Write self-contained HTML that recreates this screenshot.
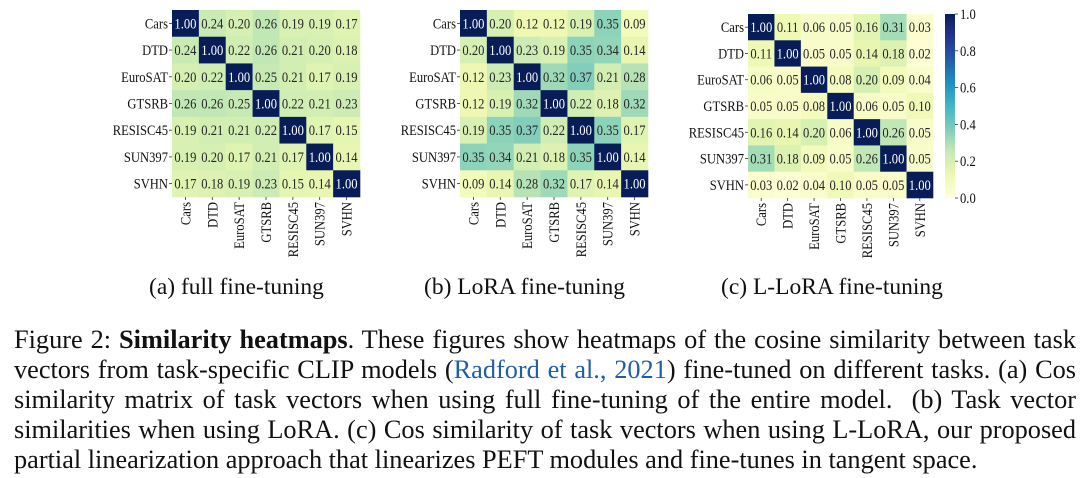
<!DOCTYPE html>
<html><head><meta charset="utf-8">
<style>
html,body{margin:0;padding:0;background:#fff;width:1088px;height:478px;overflow:hidden;font-family:"Liberation Serif",serif;}
svg{position:absolute;left:0;top:0}
.sub{position:absolute;top:274px;font-size:23.5px;color:#111;white-space:nowrap}
.cap{position:absolute;left:14px;width:1062px;font-size:26.3px;line-height:30px;color:#111}
.cap div{text-align:justify;text-align-last:justify;white-space:nowrap;height:30px}
.cap div.last{text-align-last:left}
.cite{color:#1f5fa8}
</style></head><body>
<svg id="fig" width="1088" height="270"></svg>
<div class="sub" style="left:149px">(a) full fine-tuning</div>
<div class="sub" style="left:424px">(b) LoRA fine-tuning</div>
<div class="sub" style="left:721px">(c) L-LoRA fine-tuning</div>
<div class="cap" style="top:325px">
<div>Figure 2: <b>Similarity heatmaps</b>. These figures show heatmaps of the cosine similarity between task</div>
<div>vectors from task-specific CLIP models (<span class="cite">Radford et al., 2021</span>) fine-tuned on different tasks. (a) Cos</div>
<div>similarity matrix of task vectors when using full fine-tuning of the entire model.&nbsp; (b) Task vector</div>
<div>similarities when using LoRA. (c) Cos similarity of task vectors when using L-LoRA, our proposed</div>
<div class="last">partial linearization approach that linearizes PEFT modules and fine-tunes in tangent space.</div>
</div>
<script>
const categories=["Cars","DTD","EuroSAT","GTSRB","RESISC45","SUN397","SVHN"];
const fullValues=[
[1.00,0.24,0.20,0.26,0.19,0.19,0.17],
[0.24,1.00,0.22,0.26,0.21,0.20,0.18],
[0.20,0.22,1.00,0.25,0.21,0.17,0.19],
[0.26,0.26,0.25,1.00,0.22,0.21,0.23],
[0.19,0.21,0.21,0.22,1.00,0.17,0.15],
[0.19,0.20,0.17,0.21,0.17,1.00,0.14],
[0.17,0.18,0.19,0.23,0.15,0.14,1.00]];
const loraValues=[
[1.00,0.20,0.12,0.12,0.19,0.35,0.09],
[0.20,1.00,0.23,0.19,0.35,0.34,0.14],
[0.12,0.23,1.00,0.32,0.37,0.21,0.28],
[0.12,0.19,0.32,1.00,0.22,0.18,0.32],
[0.19,0.35,0.37,0.22,1.00,0.35,0.17],
[0.35,0.34,0.21,0.18,0.35,1.00,0.14],
[0.09,0.14,0.28,0.32,0.17,0.14,1.00]];
const lloraValues=[
[1.00,0.11,0.06,0.05,0.16,0.31,0.03],
[0.11,1.00,0.05,0.05,0.14,0.18,0.02],
[0.06,0.05,1.00,0.08,0.20,0.09,0.04],
[0.05,0.05,0.08,1.00,0.06,0.05,0.10],
[0.16,0.14,0.20,0.06,1.00,0.26,0.05],
[0.31,0.18,0.09,0.05,0.26,1.00,0.05],
[0.03,0.02,0.04,0.10,0.05,0.05,1.00]];
const colorbarTicks=[0.0,0.2,0.4,0.6,0.8,1.0];

const NS="http://www.w3.org/2000/svg";
const svg=document.getElementById("fig");
const FS=15, SX=0.84;
const stops=["#ffffd9","#edf8b1","#c7e9b4","#7fcdbb","#41b6c4","#1d91c0","#225ea8","#253494","#081d58"];
function hex(h){return [1,3,5].map(i=>parseInt(h.substr(i,2),16));}
function color(v){v=Math.max(0,Math.min(1,v));const t=v*8,i=Math.min(7,Math.floor(t)),f=t-i;const a=hex(stops[i]),b=hex(stops[i+1]);return "rgb("+a.map((c,k)=>Math.round(c+(b[k]-c)*f)).join(",")+")";}
function el(tag,attrs,parent){const e=document.createElementNS(NS,tag);for(const k in attrs)e.setAttribute(k,attrs[k]);(parent||svg).appendChild(e);return e;}
function txt(parent,x,y,s,anchor,fill,rot){
  const tr=`translate(${x},${y})`+(rot?" rotate(-90)":"")+` scale(${SX},1)`;
  const t=el("text",{x:0,y:0,transform:tr,"text-anchor":anchor,"font-size":FS,fill:fill,"font-family":"Liberation Serif, serif"},parent);
  t.textContent=s;return t;
}

function heatmap(values,x0,y0,w,h,name){
  const g=el("g",{});
  
  
  const n=categories.length,cw=w/n,ch=h/n;
  const xs=i=>x0+i*cw, ys=j=>y0+j*ch;
  values.forEach((row,j)=>row.forEach((v,i)=>{
    const r=el("rect",{x:xs(i),y:ys(j),width:cw+0.3,height:ch+0.3,fill:color(v)},g);
    
    
    const t=txt(g,xs(i)+cw/2,ys(j)+ch/2+5,v.toFixed(2),"middle",v>0.6?"#fff":"#262626",false);
    
    
  }));
  categories.forEach((c,j)=>{
    el("line",{x1:x0-3,x2:x0,y1:ys(j)+ch/2,y2:ys(j)+ch/2,stroke:"#333","stroke-width":0.8},g);
    const t=txt(g,x0-4,ys(j)+ch/2+5,c,"end","#111",false);
    
    
  });
  categories.forEach((c,i)=>{
    const cx=xs(i)+cw/2;
    el("line",{x1:cx,x2:cx,y1:y0+h,y2:y0+h+3,stroke:"#333","stroke-width":0.8},g);
    const t=txt(g,cx+5,y0+h+5,c,"end","#111",true);
    
    
  });
}
heatmap(fullValues,172,10,188,187,"heatmap-full-finetuning");
heatmap(loraValues,460,10,188,187,"heatmap-lora-finetuning");
heatmap(lloraValues,748,14,185,184,"heatmap-llora-finetuning");

const cb=el("g",{});


const cbx=945,cby=14,cbw=10,cbh=184;
const grad=el("linearGradient",{id:"cbg",x1:0,y1:1,x2:0,y2:0},el("defs",{},cb));
stops.forEach((s,i)=>el("stop",{offset:(i/8),"stop-color":s},grad));
el("rect",{x:cbx,y:cby,width:cbw,height:cbh,fill:"url(#cbg)"},cb);
const cbY=v=>cby+cbh-v*cbh;
colorbarTicks.forEach(v=>{
  el("line",{x1:cbx+cbw,x2:cbx+cbw+3,y1:cbY(v),y2:cbY(v),stroke:"#333","stroke-width":0.8},cb);
  const t=txt(cb,cbx+cbw+5,cbY(v)+5,v.toFixed(1),"start","#111",false);
  
  
});
</script>
</body></html>
